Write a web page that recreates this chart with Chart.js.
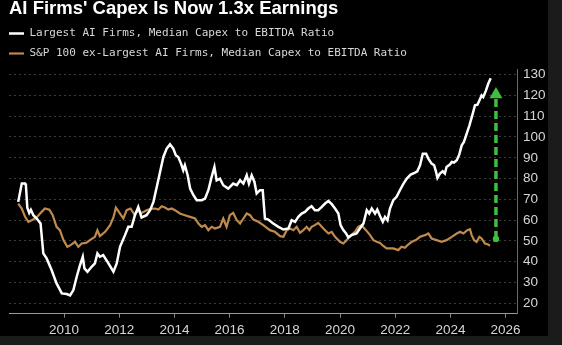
<!DOCTYPE html>
<html>
<head>
<meta charset="utf-8">
<script src="https://cdn.jsdelivr.net/npm/chart.js@4.4.1/dist/chart.umd.min.js"></script>
<style>
  body { margin: 0; background: #1b1b1b; }
  #wrap { position: relative; width: 548px; height: 336px; background: #000; }
</style>
</head>
<body>
<div id="wrap"><canvas id="capexChart"></canvas></div>
<script>
// Largest AI firms, median capex to EBITDA (%)
const largestYears = [2008.34, 2008.47, 2008.59, 2008.62, 2008.67, 2008.74, 2008.80, 2008.89, 2009.01, 2009.15,
  2009.25, 2009.37, 2009.55, 2009.73, 2009.92, 2010.10, 2010.22, 2010.34, 2010.46, 2010.58,
  2010.68, 2010.74, 2010.85, 2011.00, 2011.12, 2011.21, 2011.30, 2011.42, 2011.61, 2011.79,
  2011.91, 2012.03, 2012.21, 2012.33, 2012.45, 2012.57, 2012.69, 2012.81, 2012.99, 2013.12,
  2013.24, 2013.36, 2013.48, 2013.60, 2013.72, 2013.84, 2013.96, 2014.05, 2014.14, 2014.24,
  2014.32, 2014.38, 2014.48, 2014.57, 2014.69, 2014.81, 2014.99, 2015.11, 2015.23, 2015.35,
  2015.45, 2015.53, 2015.65, 2015.77, 2015.95, 2016.13, 2016.26, 2016.38, 2016.50, 2016.62,
  2016.70, 2016.80, 2016.90, 2016.98, 2017.10, 2017.20, 2017.28, 2017.40, 2017.58, 2017.77,
  2017.95, 2018.13, 2018.25, 2018.37, 2018.49, 2018.61, 2018.73, 2018.85, 2018.97, 2019.09,
  2019.21, 2019.34, 2019.46, 2019.58, 2019.70, 2019.82, 2019.94, 2020.02, 2020.12, 2020.22,
  2020.30, 2020.42, 2020.60, 2020.72, 2020.85, 2020.97, 2021.06, 2021.15, 2021.27, 2021.35,
  2021.45, 2021.55, 2021.63, 2021.72, 2021.81, 2021.93, 2022.05, 2022.17, 2022.30, 2022.42,
  2022.56, 2022.72, 2022.80, 2022.90, 2023.00, 2023.12, 2023.20, 2023.32, 2023.41, 2023.48,
  2023.53, 2023.62, 2023.72, 2023.80, 2023.86, 2023.98, 2024.05, 2024.13, 2024.23, 2024.32,
  2024.41, 2024.49, 2024.59, 2024.69, 2024.81, 2024.89, 2024.98, 2025.05, 2025.13, 2025.19,
  2025.29, 2025.37, 2025.46];
const largestRatio = [68.8, 77.6, 77.6, 76.8, 66, 63.5, 65, 62.4, 60.8, 58.4,
  44, 41.6, 36, 29.6, 24.8, 24.5, 23.8, 26.4, 32.8, 38.4,
  42.4, 36.8, 35.2, 37.6, 39.2, 44, 42.4, 43.2, 39.2, 35.2,
  39.2, 47.2, 52.8, 56.8, 56.8, 62.4, 66.4, 61.3, 62.4, 64.8,
  68.8, 76, 83.2, 90.4, 94.4, 96.5, 94.4, 91.2, 90.4, 87.2,
  84, 86.4, 81.6, 75.2, 72, 69.6, 69.6, 70.4, 74.4, 80.8,
  85.6, 79.2, 80, 76.8, 75.2, 77.6, 76.8, 79.2, 77.6, 81.6,
  77.6, 81.6, 78.4, 72.8, 74.4, 74.4, 60.8, 60.3, 58.4, 56.8,
  55.5, 56, 60, 59.2, 61.6, 63.2, 64, 65.6, 66.7, 64.8,
  64.8, 66.4, 68, 69.3, 67.7, 65.6, 63.2, 57.6, 55.2, 53.6,
  51.7, 52.8, 53.6, 56, 58.4, 64.8, 63.2, 65.6, 63.2, 65.1,
  62, 59.2, 61.6, 60, 65.6, 69.6, 71.2, 74.4, 77.6, 80,
  81.9, 82.9, 83.5, 86.4, 92, 92, 89.6, 87.2, 86.4, 83.2,
  80.3, 82.4, 83.5, 82.4, 85.6, 86.7, 88, 87.7, 88.8, 91.5,
  96, 97.6, 101.6, 105.6, 111.2, 115.2, 115.5, 117.6, 120, 119.2,
  122.4, 125.6, 128.3];

// S&P 100 ex-largest AI firms, median capex to EBITDA (%)
const restYears = [2008.34, 2008.47, 2008.59, 2008.71, 2008.83, 2009.01, 2009.19, 2009.31, 2009.47, 2009.59,
  2009.73, 2009.85, 2009.98, 2010.12, 2010.24, 2010.40, 2010.52, 2010.64, 2010.80, 2010.94,
  2011.12, 2011.21, 2011.30, 2011.49, 2011.67, 2011.79, 2011.88, 2012.03, 2012.15, 2012.27,
  2012.41, 2012.54, 2012.69, 2012.81, 2012.99, 2013.15, 2013.30, 2013.42, 2013.54, 2013.66,
  2013.78, 2013.90, 2014.02, 2014.20, 2014.38, 2014.57, 2014.75, 2014.87, 2014.99, 2015.11,
  2015.23, 2015.35, 2015.47, 2015.65, 2015.77, 2015.89, 2016.01, 2016.13, 2016.26, 2016.38,
  2016.50, 2016.62, 2016.74, 2016.86, 2017.04, 2017.22, 2017.46, 2017.64, 2017.83, 2017.95,
  2018.07, 2018.19, 2018.31, 2018.43, 2018.55, 2018.67, 2018.79, 2018.89, 2018.97, 2019.09,
  2019.21, 2019.34, 2019.46, 2019.58, 2019.70, 2019.82, 2020.00, 2020.12, 2020.24, 2020.36,
  2020.54, 2020.66, 2020.78, 2020.94, 2021.09, 2021.21, 2021.33, 2021.45, 2021.57, 2021.69,
  2021.81, 2021.93, 2022.11, 2022.23, 2022.35, 2022.47, 2022.60, 2022.75, 2022.90, 2023.08,
  2023.20, 2023.32, 2023.50, 2023.68, 2023.86, 2024.05, 2024.23, 2024.35, 2024.47, 2024.61,
  2024.71, 2024.77, 2024.86, 2024.95, 2025.05, 2025.13, 2025.25, 2025.37, 2025.43];
const restRatio = [68, 65.6, 61.6, 59.2, 60, 61.3, 64, 65.6, 65, 62.4,
  56.8, 55.2, 50.4, 47.2, 48, 49.6, 47.2, 48.8, 49.1, 50.4,
  52, 55.2, 52.3, 54.4, 57.6, 61.3, 66, 63.2, 60.8, 64.8,
  65.6, 62.9, 64.5, 63.5, 64.8, 65.5, 65.6, 65.1, 66.7, 66.1,
  65.1, 65.6, 64.8, 63.2, 62.4, 61.6, 60.8, 58.4, 56.8, 57.6,
  55.2, 56.8, 56, 56.8, 60.8, 56.8, 62.4, 63.5, 60, 58.4,
  60.8, 63.2, 62.4, 60.3, 59.2, 57.6, 55.2, 54.4, 52.3, 52,
  55.2, 56, 55.2, 56.8, 53.9, 55.2, 56.8, 55.2, 56.8, 57.6,
  58.7, 56.8, 55.2, 53.6, 54.4, 52, 49.6, 48.8, 50.4, 52.3,
  54.4, 56.8, 57.6, 55.2, 52.8, 50.4, 49.6, 49, 47.6, 46.4,
  46.4, 46.4, 45.6, 47.2, 46.7, 48.3, 49.6, 50.4, 52, 52.8,
  53.6, 51.2, 50.4, 49.6, 50.4, 52, 53.6, 54.4, 53.6, 55.2,
  55.7, 52.8, 50.4, 49.6, 52, 51.2, 48.8, 48.3, 47.7];

// green arrow: from the rest-of-S&P level up to the AI firms' level
const arrowYears = [2025.65, 2025.65];
const arrowRatio = [51, 120.4];

const yearTicks = [2010, 2012, 2014, 2016, 2018, 2020, 2022, 2024, 2026];
const ratioTicks = [20, 30, 40, 50, 60, 70, 80, 90, 100, 110, 120, 130];

const toPoints = (xs, ys) => xs.map((x, i) => ({ x: x, y: ys[i] }));

Chart.defaults.color = '#d6d6d6';
Chart.defaults.font.family = '"Liberation Sans", Arial, sans-serif';

const ctx = document.getElementById('capexChart').getContext('2d');
const capexChart = new Chart(ctx, {
    type: 'line',
    data: {
        datasets: [{
            label: 'Largest AI Firms, Median Capex to EBITDA Ratio',
            data: toPoints(largestYears, largestRatio),
            xAxisID: 'x',
            yAxisID: 'y',
            borderColor: '#ffffff',
            borderWidth: 2.5,
            pointRadius: 0,
            tension: 0,
        }, {
            label: 'S&P 100 ex-Largest AI Firms, Median Capex to EBITDA Ratio',
            data: toPoints(restYears, restRatio),
            xAxisID: 'x',
            yAxisID: 'y',
            borderColor: '#c08a4e',
            borderWidth: 2.2,
            pointRadius: 0,
            tension: 0,
        }, {
            label: 'arrow',
            data: toPoints(arrowYears, arrowRatio),
            xAxisID: 'x',
            yAxisID: 'y',
            borderColor: '#3fbf3f',
            borderWidth: 3.5,
            borderDash: [8, 4],
            pointStyle: ['circle', 'triangle'],
            pointRadius: [3.2, 7.5],
            pointBackgroundColor: '#3fbf3f',
            pointBorderWidth: 0,
        }]
    },
    options: {
        responsive: true,
        maintainAspectRatio: false,
        animation: false,
        layout: { padding: 0 },
        plugins: {
            title: {
                display: true,
                text: "AI Firms' Capex Is Now 1.3x Earnings",
                align: 'start',
                fullSize: false,
                color: '#ffffff',
                font: { size: 18.5, weight: 'bold', lineHeight: 1 },
                padding: { top: 0, bottom: 0.5 },
            },
            legend: {
                position: 'top',
                align: 'start',
                labels: {
                    usePointStyle: true,
                    pointStyle: 'line',
                    pointStyleWidth: 15,
                    padding: 9,
                    color: '#d8d8d8',
                    font: { family: '"DejaVu Sans Mono", monospace', size: 11 },
                    filter: item => item.datasetIndex < 2,
                },
            },
            tooltip: { enabled: false },
        },
        scales: {
            pad: {
                type: 'linear',
                axis: 'y',
                position: 'left',
                grid: { display: false },
                border: { display: false },
                ticks: { display: false },
                afterFit: scale => { scale.width = 9; },
            },
            x: {
                type: 'linear',
                position: 'bottom',
                min: 2008.007,
                max: 2026.413,
                afterBuildTicks: axis => { axis.ticks = yearTicks.map(v => ({ value: v })); },
                afterFit: scale => { scale.height = 22.4; },
                grid: { drawOnChartArea: false, drawTicks: true, tickLength: 4, tickColor: '#8a8a8a' },
                border: { color: '#9a9a9a', width: 1 },
                ticks: {
                    padding: 5,
                    color: '#d6d6d6',
                    font: { size: 13.5 },
                    maxRotation: 0,
                    callback: value => String(value),
                },
            },
            y: {
                type: 'linear',
                position: 'right',
                min: 15.07,
                max: 132.7,
                afterBuildTicks: axis => { axis.ticks = ratioTicks.map(v => ({ value: v })); },
                afterFit: scale => { scale.width = 31; },
                grid: { color: '#3a3a3a', lineWidth: 1, drawTicks: false },
                border: { color: '#6a6a6a', width: 1, dash: [2, 3] },
                ticks: {
                    padding: 6,
                    color: '#d6d6d6',
                    font: { size: 13.5 },
                    callback: value => String(value),
                },
            },
        },
    },
});
</script>
</body>
</html>
